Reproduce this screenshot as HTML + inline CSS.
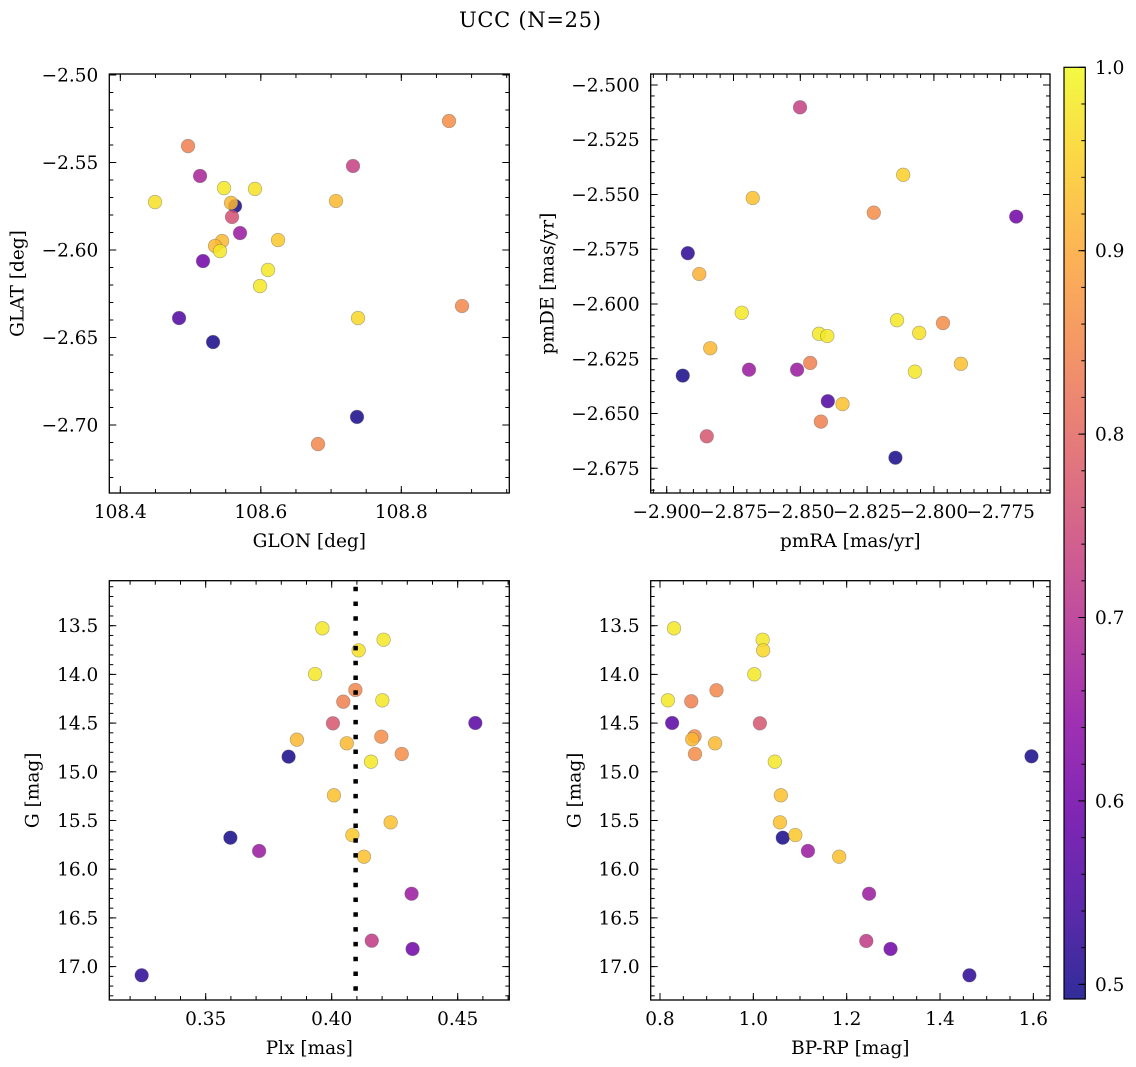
<!DOCTYPE html>
<html><head><meta charset="utf-8"><style>
html,body{margin:0;padding:0;background:#fff;}
svg{display:block;font-family:"DejaVu Serif","Liberation Serif",serif;}
</style></head><body>
<svg id="fig" width="1136" height="1067" viewBox="0 0 1136 1067">
<text x="530" y="27" text-anchor="middle" font-size="21" textLength="142">UCC (N=25)</text>
</svg>
<script>
// ---- Panel 1: GLON vs GLAT ----
const glonTL = [108.4494,108.4964,108.5135,108.5476,108.5917,108.5633,108.5576,108.5590,108.5704,108.5448,108.5348,108.5419,108.6245,108.5177,108.6102,108.5989,108.4836,108.5320,108.7070,108.7312,108.8679,108.8864,108.7384,108.7369,108.6814];
const glatTL = [-2.5726,-2.5406,-2.5577,-2.5646,-2.5651,-2.5749,-2.5731,-2.5811,-2.5903,-2.5949,-2.5977,-2.6006,-2.5943,-2.6063,-2.6114,-2.6206,-2.6389,-2.6526,-2.5720,-2.5520,-2.5263,-2.6320,-2.6389,-2.6954,-2.7109];
const probTL = [.97,.84,.68,.98,.97,.5,.92,.76,.66,.92,.92,.98,.94,.6,.98,.98,.56,.5,.92,.73,.86,.85,.96,.5,.85];
// ---- Panel 2: pmRA vs pmDE ----
const pmraTR = [-2.8501,-2.8115,-2.8678,-2.8225,-2.7692,-2.8921,-2.8878,-2.8719,-2.8138,-2.7966,-2.8430,-2.8399,-2.8055,-2.8837,-2.8940,-2.8692,-2.8512,-2.8463,-2.7899,-2.8071,-2.8397,-2.8342,-2.8423,-2.8850,-2.8144];
const pmdeTR = [-2.5102,-2.5410,-2.5516,-2.5583,-2.5601,-2.5768,-2.5863,-2.6040,-2.6074,-2.6087,-2.6136,-2.6146,-2.6132,-2.6202,-2.6327,-2.6300,-2.6300,-2.6269,-2.6273,-2.6309,-2.6444,-2.6457,-2.6537,-2.6604,-2.6702];
const probTR = [.73,.95,.93,.86,.6,.52,.91,.98,.98,.86,.98,.98,.97,.92,.5,.66,.66,.84,.93,.98,.56,.93,.84,.77,.5];
// ---- Panel 3: Plx vs G ----
const plxBL = [.3963,.4206,.4107,.3934,.4094,.4046,.4201,.4005,.4570,.3862,.4060,.4197,.4278,.3829,.4156,.4009,.4234,.4082,.3598,.3712,.4128,.4317,.4159,.4321,.3246];
const gBL = [13.527,13.644,13.753,13.996,14.160,14.280,14.266,14.502,14.499,14.670,14.707,14.640,14.817,14.845,14.896,15.241,15.519,15.649,15.677,15.813,15.872,16.252,16.734,16.819,17.089];
const probBL = [.98,.98,.97,.98,.85,.84,.98,.77,.57,.92,.92,.86,.86,.5,.98,.93,.93,.94,.5,.66,.93,.66,.72,.6,.52];
const plxMedian = [0.4095];
// ---- Panel 4: BP-RP vs G ----
const bprpBR = [.830,1.020,1.021,1.002,.921,.817,.867,.826,1.014,.874,.869,.918,.875,1.596,1.046,1.059,1.057,1.063,1.090,1.117,1.184,1.248,1.242,1.294,1.463];
const gBR = [13.527,13.644,13.753,13.999,14.163,14.266,14.276,14.499,14.502,14.636,14.666,14.707,14.817,14.841,14.896,15.241,15.519,15.677,15.649,15.813,15.872,16.252,16.737,16.819,17.089];
const probBR = [.98,.98,.96,.98,.85,.98,.84,.57,.77,.86,.92,.92,.86,.5,.98,.93,.93,.5,.94,.66,.93,.66,.72,.6,.52];
// ---- tick labels ----
const ticksTLx = [108.4,108.6,108.8];
const ticksTLy = [-2.50,-2.55,-2.60,-2.65,-2.70];
const ticksTRx = [-2.900,-2.875,-2.850,-2.825,-2.800,-2.775];
const ticksTRy = [-2.500,-2.525,-2.550,-2.575,-2.600,-2.625,-2.650,-2.675];
const ticksBLx = [0.35,0.40,0.45];
const ticksGy = [13.5,14.0,14.5,15.0,15.5,16.0,16.5,17.0];
const ticksBRx = [0.8,1.0,1.2,1.4,1.6];
const ticksCb = [0.5,0.6,0.7,0.8,0.9,1.0];
const cbRange = [0.492,1.0];

const NS='http://www.w3.org/2000/svg';
const svg=document.getElementById('fig');
function mk(tag,attrs,parent){const e=document.createElementNS(NS,tag);for(const k in attrs)e.setAttribute(k,attrs[k]);(parent||svg).appendChild(e);return e;}

const plasma=[[13,8,135],[65,4,157],[106,0,168],[143,13,164],[177,42,144],[204,71,120],[225,100,98],[242,132,75],[252,166,54],[252,206,37],[240,249,33]];
function cmap(t){t=Math.max(0,Math.min(1,t));const s=t*10,i=Math.min(9,Math.floor(s)),f=s-i;const a=plasma[i],b=plasma[i+1];return 'rgb('+a.map((v,k)=>Math.round(v+(b[k]-v)*f)).join(',')+')';}
function cnorm(c){return (c-cbRange[0])/(cbRange[1]-cbRange[0]);}
const FS=18.5;

function panel(o){
  const g=mk('g',{});
  
  
  const sx=v=>o.x0+(v-o.xmin)/(o.xmax-o.xmin)*(o.x1-o.x0);
  const sy=o.yinv? v=>o.y0+(v-o.ymin)/(o.ymax-o.ymin)*(o.y1-o.y0) : v=>o.y1-(v-o.ymin)/(o.ymax-o.ymin)*(o.y1-o.y0);
  const tg=mk('g',{stroke:'#000','stroke-width':1},g);
  
  
  function ticksX(step,len){const s=Math.ceil(o.xmin/step-1e-6);for(let k=s;k*step<=o.xmax+1e-9;k++){const x=sx(k*step);mk('line',{x1:x,x2:x,y1:o.y1,y2:o.y1-len},tg);mk('line',{x1:x,x2:x,y1:o.y0,y2:o.y0+len},tg);}}
  function ticksY(step,len){const lo=Math.min(o.ymin,o.ymax),hi=Math.max(o.ymin,o.ymax);const s=Math.ceil(lo/step-1e-6);for(let k=s;k*step<=hi+1e-9;k++){const y=sy(k*step);mk('line',{x1:o.x0,x2:o.x0+len,y1:y,y2:y},tg);mk('line',{x1:o.x1,x2:o.x1-len,y1:y,y2:y},tg);}}
  ticksX(o.xminor,4);ticksY(o.yminor,4);
  o.xt.forEach(v=>{const x=sx(v);mk('line',{x1:x,x2:x,y1:o.y1,y2:o.y1-7},tg);mk('line',{x1:x,x2:x,y1:o.y0,y2:o.y0+7},tg);
    const t=mk('text',{x:x,y:o.y1+25,'text-anchor':'middle','font-size':FS},g);t.textContent=o.fx(v).replace('-','\u2212');
    });
  o.yt.forEach(v=>{const y=sy(v);mk('line',{x1:o.x0,x2:o.x0+7,y1:y,y2:y},tg);mk('line',{x1:o.x1,x2:o.x1-7,y1:y,y2:y},tg);
    const t=mk('text',{x:o.x0-11,y:y+6.5,'text-anchor':'end','font-size':FS},g);t.textContent=o.fy(v).replace('-','\u2212');
    });
  const fr=mk('rect',{x:o.x0,y:o.y0,width:o.x1-o.x0,height:o.y1-o.y0,fill:'none',stroke:'#000','stroke-width':1.3},g);
  
  const xl=mk('text',{x:(o.x0+o.x1)/2,y:o.y1+54,'text-anchor':'middle','font-size':FS},g);xl.textContent=o.xlabel;
  
  const cy=(o.y0+o.y1)/2;
  const yl=mk('text',{x:o.ylx,y:cy,'text-anchor':'middle','font-size':FS,transform:'rotate(-90 '+o.ylx+' '+cy+')','dominant-baseline':'central'},g);yl.textContent=o.ylabel;
  
  const pg=mk('g',{},g);
  
  o.xs.forEach((xv,i)=>{const c=mk('circle',{cx:sx(xv),cy:sy(o.ys[i]),r:6.8,fill:cmap(cnorm(o.cs[i])),'fill-opacity':0.85,stroke:'rgba(90,90,90,0.45)','stroke-width':0.7},pg);
    
    });
  if(o.vline){o.vline.forEach(v=>{const x=sx(v);const l=mk('line',{x1:x,x2:x,y1:o.y0,y2:o.y1,stroke:'#000','stroke-width':4.5,'stroke-dasharray':'4.5 10.3','stroke-dashoffset':-6},g);
    });}
}
const f2=v=>v.toFixed(2),f3=v=>v.toFixed(3),f1=v=>v.toFixed(1);
panel({name:'glon-glat-panel',x0:109.3,x1:509.3,y0:74,y1:493,xmin:108.3843,xmax:108.9537,ymin:-2.73886,ymax:-2.49943,xminor:0.05,yminor:0.01,xt:ticksTLx,yt:ticksTLy,fx:f1,fy:f2,xlabel:'GLON [deg]',ylabel:'GLAT [deg]',ylx:18,xs:glonTL,ys:glatTL,cs:probTL});
panel({name:'pm-panel',x0:650.7,x1:1050,y0:74,y1:493,xmin:-2.90599,xmax:-2.75655,ymin:-2.68630,ymax:-2.49498,xminor:0.005,yminor:0.005,xt:ticksTRx,yt:ticksTRy,fx:f3,fy:f3,xlabel:'pmRA [mas/yr]',ylabel:'pmDE [mas/yr]',ylx:548,xs:pmraTR,ys:pmdeTR,cs:probTR});
panel({name:'plx-g-panel',x0:109.3,x1:509.3,y0:580.7,y1:1000,yinv:true,xmin:0.31175,xmax:0.47048,ymin:13.038,ymax:17.343,xminor:0.01,yminor:0.1,xt:ticksBLx,yt:ticksGy,fx:f2,fy:f1,xlabel:'Plx [mas]',ylabel:'G [mag]',ylx:33,vline:plxMedian,xs:plxBL,ys:gBL,cs:probBL});
panel({name:'cmd-panel',x0:650.7,x1:1050,y0:580.7,y1:1000,yinv:true,xmin:0.78007,xmax:1.63566,ymin:13.038,ymax:17.343,xminor:0.05,yminor:0.1,xt:ticksBRx,yt:ticksGy,fx:f1,fy:f1,xlabel:'BP-RP [mag]',ylabel:'G [mag]',ylx:575,xs:bprpBR,ys:gBR,cs:probBR});

const cb=mk('g',{});


const defs=mk('defs',{});
const lg=mk('linearGradient',{id:'cbg',x1:0,y1:1,x2:0,y2:0},defs);
for(let i=0;i<=20;i++){mk('stop',{offset:i/20,'stop-color':cmap(i/20)},lg);}
const cbx0=1064,cbx1=1085.3,cby0=67.3,cby1=999;
mk('rect',{x:cbx0,y:cby0,width:cbx1-cbx0,height:cby1-cby0,fill:'url(#cbg)','fill-opacity':0.85},cb);
mk('rect',{x:cbx0,y:cby0,width:cbx1-cbx0,height:cby1-cby0,fill:'none',stroke:'#000','stroke-width':1.2},cb);
const cbY=v=>cby1-(v-cbRange[0])/(cbRange[1]-cbRange[0])*(cby1-cby0);
for(let k=25;k<=50;k++){const v=k*0.02;if(v<cbRange[0]-1e-9)continue;const y=cbY(v);mk('line',{x1:cbx1,x2:cbx1-4,y1:y,y2:y,stroke:'#000','stroke-width':1},cb);}
ticksCb.forEach(v=>{const y=cbY(v);mk('line',{x1:cbx1,x2:cbx1-7,y1:y,y2:y,stroke:'#000','stroke-width':1},cb);
  const t=mk('text',{x:1095,y:y+6.5,'font-size':FS},cb);t.textContent=v.toFixed(1);
  });
</script>
</body></html>
